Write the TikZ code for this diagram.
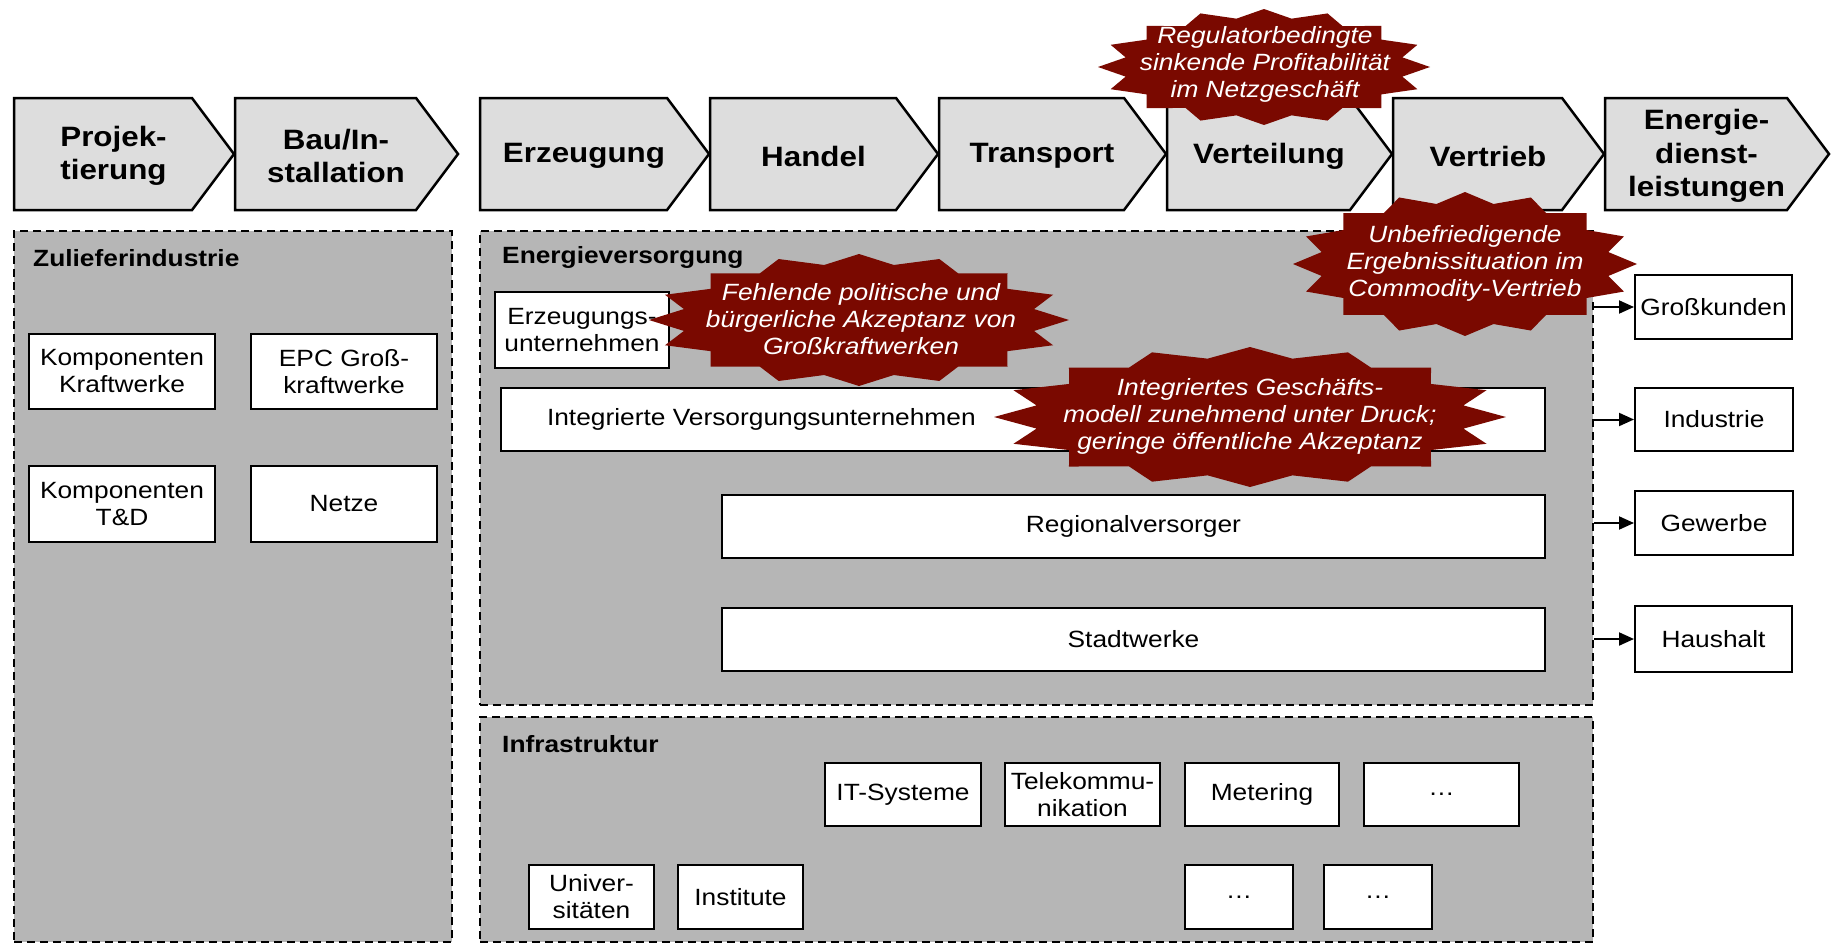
\documentclass[tikz,border=0pt]{standalone}
\usepackage{fontspec}
\setmainfont{Liberation Sans}[FakeStretch=1.12]
\usetikzlibrary{arrows.meta}
\definecolor{chevgray}{RGB}{221,221,221}
\definecolor{panelgray}{RGB}{182,182,182}
\definecolor{burstred}{RGB}{122,9,0}
\newcommand\chevshape[4]{%
  \draw[chev] (#2,98) -- ({#3-42},98) -- (#3,154) -- ({#3-42},210) -- (#2,210) -- cycle;
  \node[chevtext] (#1) at ({(#2+#3-21)/2},156) {#4};}
\newcommand\rbox[6]{\node[#1,minimum width={#5-#3},minimum height={#6-#4}] (#2) at ({(#3+#5)/2},{(#4+#6)/2})}
\newcommand\burstshape[4]{%
  \fill[burstred,shift={(#1,#2)},xscale=#3,yscale=#4]
    plot[samples at={0,...,31},variable=\k] ({(1-0.15*mod(\k,2))*cos(\k*11.25)},{(1-0.15*mod(\k,2))*sin(\k*11.25)}) -- cycle;}
\begin{document}
\begin{tikzpicture}[x=1pt,y=-1pt,
  chev/.style={draw=black,line width=2.5pt,fill=chevgray},
  chevtext/.style={font=\fontsize{28}{33.5}\selectfont\bfseries,align=center,inner sep=0pt},
  panel/.style={draw=black,line width=2pt,dash pattern=on 8pt off 5pt,fill=panelgray,inner sep=0pt},
  ptitle/.style={font=\fontsize{23.5}{27}\selectfont\bfseries,anchor=west,inner sep=0pt},
  box/.style={draw=black,line width=2pt,fill=white,align=center,font=\fontsize{23.5}{27}\selectfont,inner sep=1pt},
  btext/.style={font=\fontsize{23.5}{27}\selectfont\itshape,text=white,align=center,inner sep=0pt},
  arr/.style={line width=2pt,-{Triangle[length=15pt,width=13pt]}}]
\useasboundingbox[fill=white] (0,0) rectangle (1832,948);

% value chain
\chevshape{c1}{14}{234}{Projek-\\tierung}
\chevshape{c2}{235}{458}{Bau/In-\\stallation}
\chevshape{c3}{480}{709}{Erzeugung}
\chevshape{c4}{710}{938}{Handel}
\chevshape{c5}{939}{1166}{Transport}
\chevshape{c6}{1167}{1392}{Verteilung}
\chevshape{c7}{1393}{1604}{Vertrieb}
\chevshape{c8}{1605}{1829}{Energie-\\dienst-\\leistungen}

% panels
\rbox{panel}{zu}{14}{231}{452}{942}{};
\rbox{panel}{ev}{480}{231}{1593}{705}{};
\rbox{panel}{inf}{480}{717}{1593}{942}{};
\node[ptitle] (tzu) at (33,258) {Zulieferindustrie};
\node[ptitle] (tev) at (502,257) {Energieversorgung};
\node[ptitle] (tinf) at (502,744) {Infrastruktur};

% Zulieferindustrie
\rbox{box}{kk}{29}{334}{215}{409}{Komponenten\\Kraftwerke};
\rbox{box}{epc}{251}{334}{437}{409}{EPC Groß-\\kraftwerke};
\rbox{box}{ktd}{29}{466}{215}{542}{Komponenten\\T\&D};
\rbox{box}{netze}{251}{466}{437}{542}{Netze};

% Energieversorgung
\rbox{box}{eu}{495}{292}{669}{368}{Erzeugungs-\\unternehmen};
\rbox{box}{ivu}{501}{388}{1545}{451}{};
\node[box,draw=none,fill=none,anchor=west] (tivu) at ([xshift=45pt]ivu.west) {Integrierte Versorgungsunternehmen};
\rbox{box}{reg}{722}{495}{1545}{558}{Regionalversorger};
\rbox{box}{stw}{722}{608}{1545}{671}{Stadtwerke};

% customers
\rbox{box}{gk}{1635}{275}{1792}{339}{Großkunden};
\rbox{box}{ind}{1635}{388}{1793}{451}{Industrie};
\rbox{box}{gew}{1635}{491}{1793}{555}{Gewerbe};
\rbox{box}{hh}{1635}{606}{1792}{672}{Haushalt};

% Infrastruktur
\rbox{box}{it}{825}{763}{981}{826}{IT-Systeme};
\rbox{box}{tel}{1005}{763}{1160}{826}{Telekommu-\\nikation};
\rbox{box}{met}{1185}{763}{1339}{826}{Metering};
\rbox{box}{da}{1364}{763}{1519}{826}{…};
\rbox{box}{uni}{529}{865}{654}{929}{Univer-\\sitäten};
\rbox{box}{inst}{678}{865}{803}{929}{Institute};
\rbox{box}{db}{1185}{865}{1293}{929}{…};
\rbox{box}{dc}{1324}{865}{1432}{929}{…};

% bursts
\burstshape{1264}{67}{166}{58}
\node[btext] (b1) at (1265,64) {Regulatorbedingte\\sinkende Profitabilität\\im Netzgeschäft};
\burstshape{1465}{264}{172}{72}
\node[btext] (b2) at (1465,263) {Unbefriedigende\\Ergebnissituation im\\Commodity-Vertrieb};
\burstshape{859}{320}{210}{66}
\node[btext] (b3) at (861,319) {Fehlende politische und\\bürgerliche Akzeptanz von\\Großkraftwerken};
\burstshape{1250}{417}{256}{70}
\node[btext] (b4) at (1250,416) {Integriertes Geschäfts-\\modell zunehmend unter Druck;\\geringe öffentliche Akzeptanz};

% arrows
\draw[arr] (ev.east |- gk.west) -- (gk.west);
\draw[arr] (ev.east |- ind.west) -- (ind.west);
\draw[arr] (ev.east |- gew.west) -- (gew.west);
\draw[arr] (ev.east |- hh.west) -- (hh.west);
\end{tikzpicture}
\end{document}
